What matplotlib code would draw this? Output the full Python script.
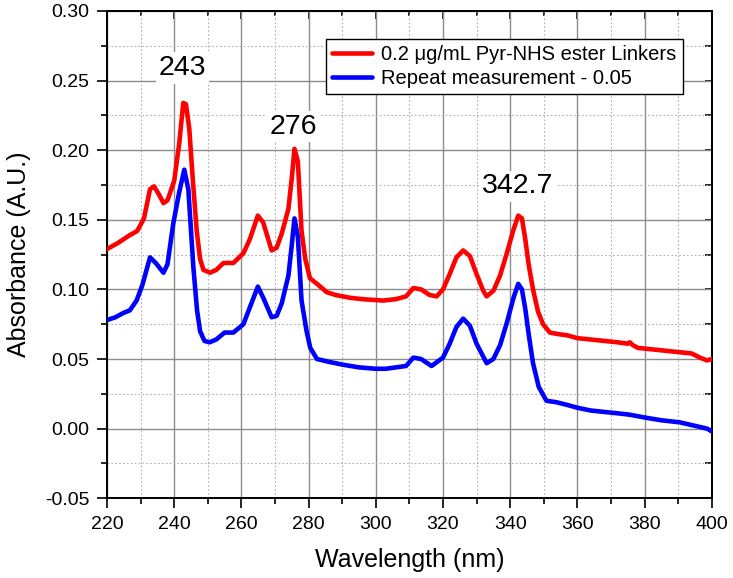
"""
UV-vis absorbance of Pyr-NHS ester linker, with a repeat measurement offset by -0.05
"""

import matplotlib.pyplot as plt
from matplotlib.ticker import MultipleLocator, FormatStrFormatter, NullFormatter

plt.rcParams['font.family'] = ['Liberation Sans', 'DejaVu Sans']
plt.rcParams['axes.unicode_minus'] = False

# values
wl_red = [220, 223, 226.8, 229, 231, 232.8, 234, 235.5, 236.8, 238, 240, 241.5, 242.7, 243.5,
          244.5, 245.5, 246.7, 247.7, 248.7, 250.7, 252.5, 254.7, 257.6, 260.6, 262.5, 264.9,
          266.5, 268, 269, 270.5, 272, 274, 275, 275.8, 276.8, 277.9, 279, 280.4, 282.5, 285.4,
          288, 292.3, 296, 302.2, 306, 309, 311.2, 313.5, 316, 318.1, 320, 322, 324, 326, 328,
          330, 332, 333, 335, 337, 339, 341, 342.4, 343.5, 344.5, 345.5, 346.8, 348.3, 349.8,
          351.8, 354, 357, 360, 364, 368, 372, 375, 375.6, 376.5, 378, 382, 386, 390, 394,
          396.5, 398.6, 400]
red = [0.129, 0.133, 0.139, 0.142, 0.151, 0.172, 0.174, 0.168, 0.162, 0.164, 0.178, 0.205, 0.234, 0.233,
       0.215, 0.180, 0.142, 0.122, 0.114, 0.112, 0.114, 0.119, 0.119, 0.126, 0.136, 0.153,
       0.148, 0.136, 0.128, 0.130, 0.140, 0.158, 0.180, 0.201, 0.192, 0.142, 0.122, 0.108, 0.104, 0.098,
       0.096, 0.094, 0.093, 0.092, 0.093, 0.095, 0.101, 0.100, 0.096, 0.095, 0.100, 0.111, 0.123, 0.128, 0.124,
       0.111, 0.099, 0.095, 0.099, 0.110, 0.126, 0.143, 0.153, 0.151, 0.136, 0.118, 0.100, 0.084, 0.075,
       0.069, 0.068, 0.067, 0.065, 0.064, 0.063, 0.062, 0.061, 0.062, 0.060, 0.058, 0.057, 0.056, 0.055, 0.054,
       0.051, 0.049, 0.050]

wl_blue = [220, 222.5, 224.8, 226.8, 228.8, 230.5, 232.8, 234.5, 236.8, 238, 239.7, 241.5, 243,
           244.2, 245.7, 246.8, 247.7, 249, 250.5, 252.5, 255, 257.6, 260.6, 262.5, 264.9,
           266.5, 269, 270.5, 272, 274, 275, 275.8, 276.8, 277.9, 279.4, 280.5, 282.5, 286,
           290, 295, 300, 303, 306, 309, 311.2, 313.5, 316.6, 320, 322, 324, 326, 328, 330,
           333, 335, 337, 339, 341, 342.4, 343.5, 344.5, 345.5, 346.8, 348.5, 350.8, 353.7,
           357, 360, 364, 368, 372, 375.6, 380, 385, 390.5, 395, 398.6, 400]
blue = [0.078, 0.080, 0.083, 0.085, 0.092, 0.103, 0.123, 0.119, 0.112, 0.118, 0.147, 0.170, 0.186,
        0.172, 0.116, 0.085, 0.070, 0.063, 0.062, 0.064, 0.069, 0.069, 0.075, 0.087, 0.102,
        0.094, 0.080, 0.081, 0.090, 0.110, 0.132, 0.151, 0.138, 0.092, 0.070, 0.058, 0.050, 0.048,
        0.046, 0.044, 0.043, 0.043, 0.044, 0.045, 0.051, 0.050, 0.045, 0.051, 0.061, 0.073, 0.079, 0.074, 0.061,
        0.047, 0.050, 0.060, 0.076, 0.094, 0.104, 0.100, 0.086, 0.068, 0.047, 0.030, 0.020, 0.019,
        0.017, 0.015, 0.013, 0.012, 0.011, 0.010, 0.008, 0.006, 0.0045, 0.002, 0.000, -0.002]

peak_pos = [243, 276, 342.7]
peak_text = ["243", "276", "342.7"]
peak_label_y = [0.259, 0.217, 0.174]

fig = plt.figure(figsize=(7.33, 5.78), dpi=100)
ax = fig.add_axes([0.146, 0.138, 0.825, 0.843])

ax.plot(wl_red, red, color="#ff0000", lw=3.3, solid_joinstyle="round", solid_capstyle="round",
        label="0.2 μg/mL Pyr-NHS ester Linkers", zorder=3)
ax.plot(wl_blue, blue, color="#0000ff", lw=3.3, solid_joinstyle="round", solid_capstyle="round",
        label="Repeat measurement - 0.05", zorder=3)

for x, t, y in zip(peak_pos, peak_text, peak_label_y):
    ax.text(x - 0.5, y, t, fontsize=20.5, ha="center", va="center", zorder=4,
            bbox=dict(facecolor="white", edgecolor="none", pad=2))

ax.set_xlim(220, 400)
ax.set_ylim(-0.05, 0.30)
ax.xaxis.set_major_locator(MultipleLocator(20))
ax.xaxis.set_minor_locator(MultipleLocator(10))
ax.yaxis.set_major_locator(MultipleLocator(0.05))
ax.yaxis.set_minor_locator(MultipleLocator(0.025))
ax.yaxis.set_major_formatter(FormatStrFormatter("%.2f"))

ax.tick_params(which="both", direction="out", labelsize=14, width=1.2, pad=5.5)
ax.tick_params(which="major", length=7)
ax.tick_params(which="minor", length=4)

ax.xaxis.grid(True, which="major", color="#8c8c8c", lw=1.0, ls="-")
ax.yaxis.grid(True, which="major", color="#8c8c8c", lw=1.0, ls="-")
ax.xaxis.grid(True, which="minor", color="#b0b0b0", lw=0.8, ls=(0, (1.5, 2)))
ax.yaxis.grid(True, which="minor", color="#b0b0b0", lw=0.8, ls=(0, (1.5, 2)))
ax.set_axisbelow(True)

# top and right ticks point inward
top = ax.secondary_xaxis("top")
top.xaxis.set_major_locator(MultipleLocator(20))
top.xaxis.set_minor_locator(MultipleLocator(10))
top.xaxis.set_major_formatter(NullFormatter())
top.tick_params(which="both", direction="in", width=1.2)
top.tick_params(which="major", length=6)
top.tick_params(which="minor", length=3.5)
right = ax.secondary_yaxis("right")
right.yaxis.set_major_locator(MultipleLocator(0.05))
right.yaxis.set_minor_locator(MultipleLocator(0.025))
right.yaxis.set_major_formatter(NullFormatter())
right.tick_params(which="both", direction="in", width=1.2, length=5)

for sp in ax.spines.values():
    sp.set_linewidth(1.4)
top.spines["top"].set_linewidth(1.4)
right.spines["right"].set_linewidth(1.4)

ax.set_xlabel("Wavelength (nm)", fontsize=18, labelpad=11)
ax.set_ylabel("Absorbance (A.U.)", fontsize=18, labelpad=10)

leg = ax.legend(loc="upper right", bbox_to_anchor=(0.952, 0.942), fontsize=14.5, frameon=True,
                fancybox=False, edgecolor="black", framealpha=1, handlelength=2.0,
                borderpad=0.3, labelspacing=0.25, handletextpad=0.45, borderaxespad=0)
leg.get_frame().set_linewidth(1.0)

fig.savefig("out.png", dpi=100)
